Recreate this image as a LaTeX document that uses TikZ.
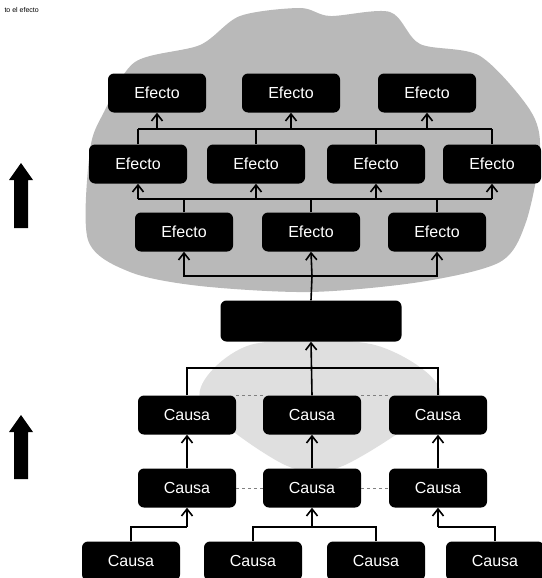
\documentclass[tikz,border=0pt]{standalone}
\usepackage{fontspec}
\setmainfont{Liberation Sans}
\usepackage{tikz}
\usetikzlibrary{arrows.meta,positioning}

\begin{document}
\begin{tikzpicture}[x=1pt,y=-1pt,>={Straight Barb[length=7pt,width=11pt]},
  caja/.style={rounded corners=6pt,fill=black,text=white,minimum width=98pt,minimum height=39pt,inner sep=0pt,font=\fontsize{16}{18}\selectfont},
  linea/.style={line width=1.6pt},
  tenue/.style={dashed,gray,line width=0.6pt}]
\useasboundingbox(0,0)rectangle(541,578);
\fill[gray!55]plot[smooth cycle]coordinates{(90,150)(104,112)(135,62)(200,45)(240,16)(300,8)(330,16)(390,12)(420,44)(480,56)(530,110)(540,150)(526,222)(500,262)(420,282)(310,292)(200,286)(130,272)(88,240)};
\fill[gray!25]plot[smooth cycle]coordinates{(250,345)(375,345)(440,395)(345,465)(285,465)(200,398)};
\node[font=\fontsize{7}{8}\selectfont,anchor=west]at(1,10){to el efecto};
\fill(14,228)--(14,180)--(9,180)--(21,163)--(33,180)--(28,180)--(28,228)--cycle;
\fill(14,479)--(14,432)--(9,432)--(21,415)--(33,432)--(28,432)--(28,479)--cycle;
\node[caja](E1a)at(157,93){Efecto};
\node[caja](E1b)at(291,93){Efecto};
\node[caja](E1c)at(427,93){Efecto};
\node[caja](E2a)at(138,164){Efecto};
\node[caja](E2b)at(256,164){Efecto};
\node[caja](E2c)at(376,164){Efecto};
\node[caja](E2d)at(492,164){Efecto};
\node[caja](E3a)at(184,232){Efecto};
\node[caja](E3b)at(311,232){Efecto};
\node[caja](E3c)at(437,232){Efecto};
\node[caja,minimum width=181pt,minimum height=41pt](M)at(311,321){};
\node[caja](A1)at(187,415){Causa};
\node[caja](A2)at(312,415){Causa};
\node[caja](A3)at(438,415){Causa};
\node[caja](B1)at(187,488){Causa};
\node[caja](B2)at(312,488){Causa};
\node[caja](B3)at(438,488){Causa};
\node[caja](C1)at(131,561){Causa};
\node[caja](C2)at(253,561){Causa};
\node[caja](C3)at(376,561){Causa};
\node[caja](C4)at(495,561){Causa};
\coordinate(jB1)at(187,527);
\coordinate(jB2)at(312,527);
\coordinate(jB3)at(438,527);
\coordinate(jM)at(312,368);
\coordinate(jE)at(312,276);
\coordinate(f)at(0,199);
\coordinate(g)at(0,129);
\draw[tenue](A1.north east)--(A2.north west);
\draw[tenue](A2.north east)--(A3.north west);
\draw[tenue](B1.east)--(B2.west);
\draw[tenue](B2.east)--(B3.west);
\draw[linea](C1.north)|-(jB1);
\draw[linea](C2.north)|-(jB2);
\draw[linea](C3.north)|-(jB2);
\draw[linea](C4.north)|-(jB3);
\draw[linea,->](jB1)--(B1);
\draw[linea,->](jB2)--(B2);
\draw[linea,->](jB3)--(B3);
\draw[linea,->](B1)--(A1);
\draw[linea,->](B2)--(A2);
\draw[linea,->](B3)--(A3);
\draw[linea](A1.north)|-(jM);
\draw[linea](A3.north)|-(jM);
\draw[linea,->](A2.north)--(M.south);
\draw[linea](M.north)--(jE);
\draw[linea,->](jE)-|(E3a.south);
\draw[linea,->](jE)--(E3b.south);
\draw[linea,->](jE)-|(E3c.south);
\draw[linea](E2a.south|-f)--(E2d.south|-f);
\foreach \n in {a,b,c}\draw[linea](E3\n.north)--(E3\n.north|-f);
\foreach \n in {a,b,c,d}\draw[linea,->](E2\n.south|-f)--(E2\n.south);
\draw[linea](E2a.north|-g)--(E2d.north|-g);
\foreach \n in {a,b,c,d}\draw[linea](E2\n.north)--(E2\n.north|-g);
\foreach \n in {a,b,c}\draw[linea,->](E1\n.south|-g)--(E1\n.south);
\end{tikzpicture}
\end{document}
